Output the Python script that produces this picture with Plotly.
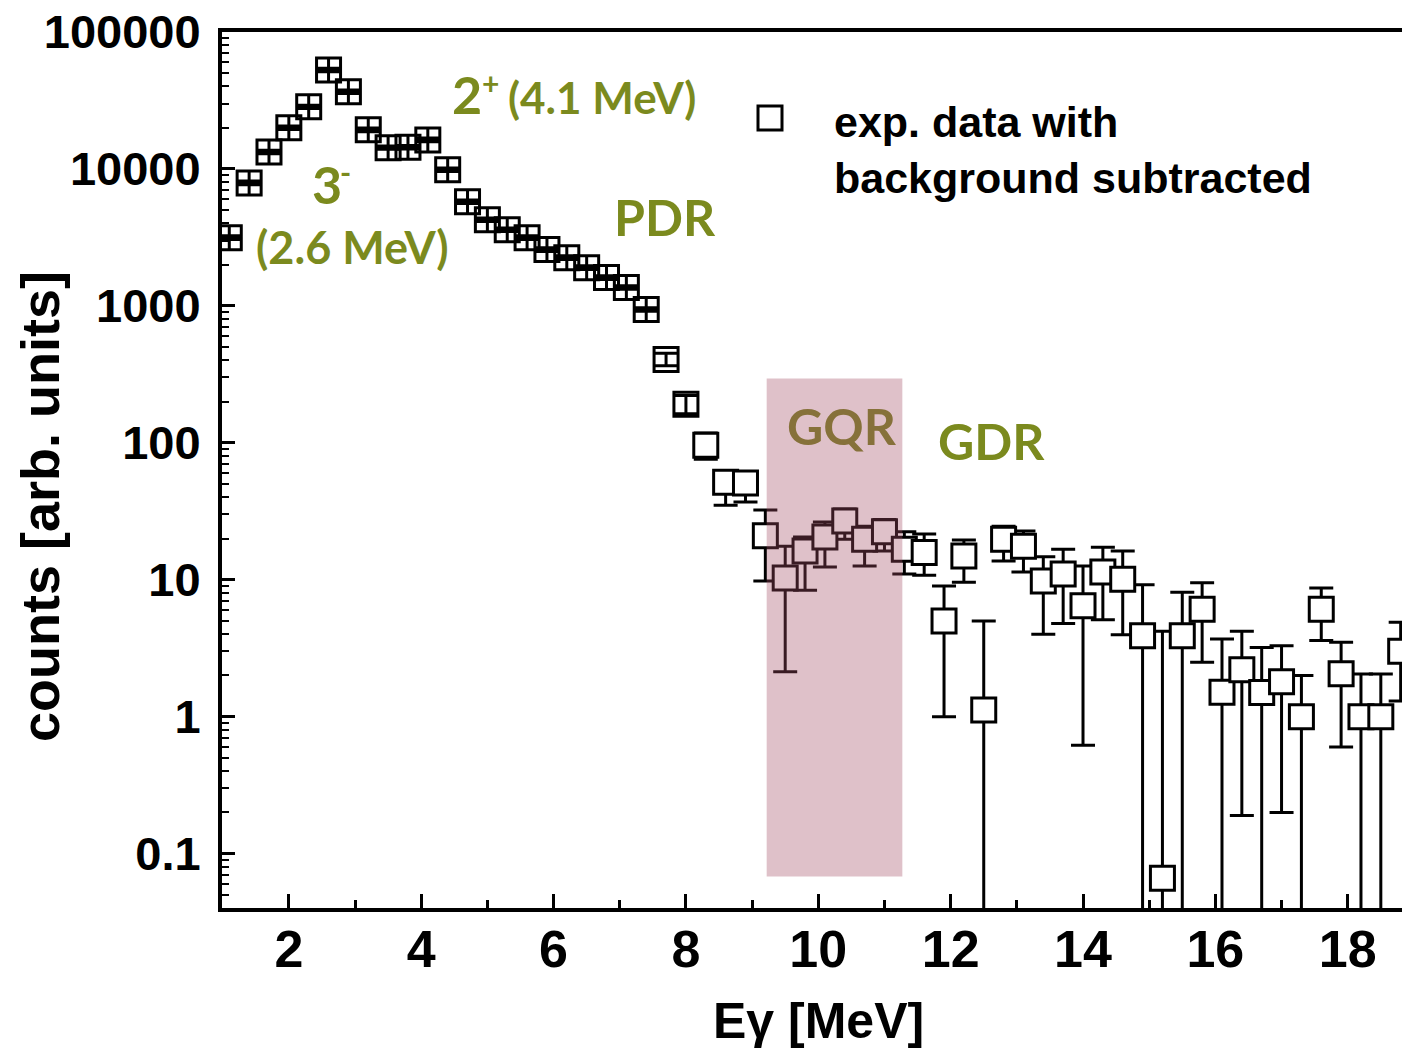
import plotly.graph_objects as go

# ---- data ----
energy = [1.1, 1.4, 1.7, 2.0, 2.3, 2.6, 2.9, 3.2, 3.5, 3.8,
          4.1, 4.4, 4.7, 5.0, 5.3, 5.6, 5.9, 6.2, 6.5, 6.8,
          7.1, 7.4, 7.7, 8.0, 8.3, 8.6, 8.9, 9.2, 9.5, 9.8,
          10.1, 10.4, 10.7, 11.0, 11.3, 11.6, 11.9, 12.2, 12.5, 12.8,
          13.1, 13.4, 13.7, 14.0, 14.3, 14.6, 14.9, 15.2, 15.5, 15.8,
          16.1, 16.4, 16.7, 17.0, 17.3, 17.6, 17.9, 18.2, 18.5, 18.8]
counts = [3150, 7900, 13300, 20000, 28400, 52800, 36600, 19300, 14300, 14400,
          16300, 9860, 5770, 4260, 3600, 3150, 2580, 2250, 1900, 1610,
          1360, 942, 406, 191, 96, 51.6, 50.8, 21, 10.3, 16.2,
          20.5, 26.9, 19.8, 22.4, 16.7, 15.8, 5.0, 14.9, 1.12, 19.8,
          17.6, 9.8, 11, 6.45, 11.4, 10.1, 3.9, 0.066, 3.9, 6.1,
          1.51, 2.2, 1.5, 1.8, 1.0, 6.1, 2.06, 1.0, 1.0, 3.0]
err_low_end = [3050, 7650, 12900, 19400, 27600, 51300, 35500, 18700, 13900, 14000,
               15800, 9560, 5600, 4130, 3490, 3050, 2500, 2180, 1840, 1560,
               1320, 915, 365, 163, 76, 35, 37, 9.8, 2.13, 8.4,
               12.4, 19.8, 12.6, 16.2, 11, 10.8, 1.0, 9.6, 0.0001, 13.7,
               11.4, 4.0, 4.8, 0.62, 5.1, 3.96, 0.0001, 0.0001, 0.0001, 2.5,
               0.0001, 0.19, 0.0001, 0.2, 0.0001, 3.6, 0.6, 0.0001, 0.0001, 1.3]
err_high_end = [3250, 8150, 13700, 20600, 29200, 54300, 37700, 19900, 14700, 14800,
                16800, 10160, 5940, 4390, 3710, 3250, 2660, 2320, 1960, 1660,
                1400, 970, 450, 222, 118, 61, 60, 32.3, 17.6, 20.5,
                26.4, 32.8, 24.6, 27.6, 22.4, 21.6, 9.0, 19.5, 5.0, 24.6,
                22.7, 14.7, 16.7, 12.6, 17.3, 16.2, 9.2, 4.2, 8.1, 9.5,
                3.7, 4.2, 3.2, 3.3, 2.0, 8.7, 3.5, 2.05, 2.05, 4.9]

x_ticks = [2, 4, 6, 8, 10, 12, 14, 16, 18]
y_ticks = [0.1, 1, 10, 100, 1000, 10000, 100000]
y_tick_text = ["0.1", "1", "10", "100", "1000", "10000", "100000"]
gqr_band = [9.22, 11.27]          # MeV
gqr_band_counts = [0.068, 295]    # vertical extent of shaded band

err_plus = [h - c for h, c in zip(err_high_end, counts)]
err_minus = [c - l for c, l in zip(counts, err_low_end)]

# marker style: dense high-statistics points look like a crossed square,
# the transition points are open, the rest are white-filled squares
symbols = []
fills = []
for c in counts:
    if c > 900:
        symbols.append("square-cross-open")
        fills.append("black")
    elif c > 150:
        symbols.append("square-open")
        fills.append("black")
    else:
        symbols.append("square")
        fills.append("white")

# ---- figure geometry ----
W, H = 1402, 1049
ML, MR, MT, MB = 222, 0, 32, 141
PW, PH = W - ML - MR, H - MT - MB


def px(xp):
    return (xp - ML) / PW


def py(yp):
    return (H - MB - yp) / PH


OLIVE = "#7b8a1e"
AX_FONT = "Liberation Sans, Arial, sans-serif"
LBL_FONT = "Lato, Open Sans, sans-serif"

fig = go.Figure()
fig.add_trace(go.Scatter(
    x=energy, y=counts, mode="markers",
    name="exp. data with background subtracted",
    marker=dict(symbol=symbols, size=24, color=fills,
                line=dict(width=3, color="black")),
    error_y=dict(type="data", symmetric=False, array=err_plus,
                 arrayminus=err_minus, color="black", thickness=3, width=12),
    showlegend=False,
))

fig.add_shape(type="rect", xref="x", yref="y",
              x0=gqr_band[0], x1=gqr_band[1],
              y0=gqr_band_counts[0], y1=gqr_band_counts[1],
              fillcolor="rgba(164,76,99,0.35)", line=dict(width=0),
              layer="above")

# legend key (drawn as a glyph next to the legend text)
fig.add_shape(type="rect", xref="paper", yref="paper",
              x0=px(758), x1=px(782), y0=py(130), y1=py(106),
              line=dict(color="black", width=3), fillcolor="rgba(0,0,0,0)")

annos = [
    dict(text="exp. data with<br>background subtracted", x=px(832), y=py(96),
         xanchor="left", yanchor="top", align="left",
         font=dict(family=AX_FONT, size=43, color="black", weight=700)),
    dict(text="2", x=px(450), y=py(94), xanchor="left", yanchor="middle",
         font=dict(family=LBL_FONT, size=52, color=OLIVE, weight=700)),
    dict(text="+", x=px(480), y=py(83), xanchor="left", yanchor="middle",
         font=dict(family=LBL_FONT, size=30, color=OLIVE, weight=700)),
    dict(text="(4.1 MeV)", x=px(506), y=py(97), xanchor="left", yanchor="middle",
         font=dict(family=LBL_FONT, size=44, color=OLIVE, weight=700)),
    dict(text="3", x=px(310), y=py(184), xanchor="left", yanchor="middle",
         font=dict(family=LBL_FONT, size=52, color=OLIVE, weight=700)),
    dict(text="-", x=px(338), y=py(172), xanchor="left", yanchor="middle",
         font=dict(family=LBL_FONT, size=30, color=OLIVE, weight=700)),
    dict(text="(2.6 MeV)", x=px(254), y=py(247), xanchor="left", yanchor="middle",
         font=dict(family=LBL_FONT, size=45, color=OLIVE, weight=700)),
    dict(text="PDR", x=px(612), y=py(217), xanchor="left", yanchor="middle",
         font=dict(family=LBL_FONT, size=50, color=OLIVE, weight=700)),
    dict(text="GQR", x=px(785), y=py(426), xanchor="left", yanchor="middle",
         font=dict(family=LBL_FONT, size=50, color="#86713a", weight=700)),
    dict(text="GDR", x=px(936), y=py(441), xanchor="left", yanchor="middle",
         font=dict(family=LBL_FONT, size=50, color=OLIVE, weight=700)),
    dict(text="counts [arb. units]", x=px(40), y=py(507), textangle=-90,
         xanchor="center", yanchor="middle",
         font=dict(family=AX_FONT, size=54, color="black", weight=700)),
    dict(text="Eγ [MeV]", x=px(818), y=py(1021),
         xanchor="center", yanchor="middle",
         font=dict(family=AX_FONT, size=50, color="black", weight=700)),
]
for a in annos:
    a.setdefault("xref", "paper")
    a.setdefault("yref", "paper")
    a["showarrow"] = False
    fig.add_annotation(**a)

fig.update_layout(
    width=W, height=H,
    margin=dict(l=ML, r=MR, t=MT, b=MB, pad=0),
    paper_bgcolor="white", plot_bgcolor="white",
    showlegend=False,
    xaxis=dict(
        range=[0.99, 18.82], tickvals=x_ticks, ticktext=[str(v) for v in x_ticks],
        ticks="inside", ticklen=14, tickwidth=3, tickcolor="black",
        minor=dict(tickvals=[1, 3, 5, 7, 9, 11, 13, 15, 17], ticks="inside",
                   ticklen=8, tickwidth=3, tickcolor="black"),
        showline=True, linewidth=4, linecolor="black", mirror=True,
        showgrid=False, zeroline=False,
        tickfont=dict(family=AX_FONT, size=52, color="black", weight=700),
        ticklabelstandoff=-7,
    ),
    yaxis=dict(
        type="log", range=[-1.397, 5.0],
        tickvals=y_ticks, ticktext=y_tick_text,
        ticks="inside", ticklen=13, tickwidth=3, tickcolor="black",
        minor=dict(dtick="D1", ticks="inside", ticklen=7, tickwidth=2,
                   tickcolor="black", showgrid=False),
        showline=True, linewidth=4, linecolor="black", mirror=False,
        showgrid=False, zeroline=False,
        tickfont=dict(family=AX_FONT, size=47, color="black", weight=700),
        ticklabelstandoff=8,
    ),
)

fig.write_html("out.html")
